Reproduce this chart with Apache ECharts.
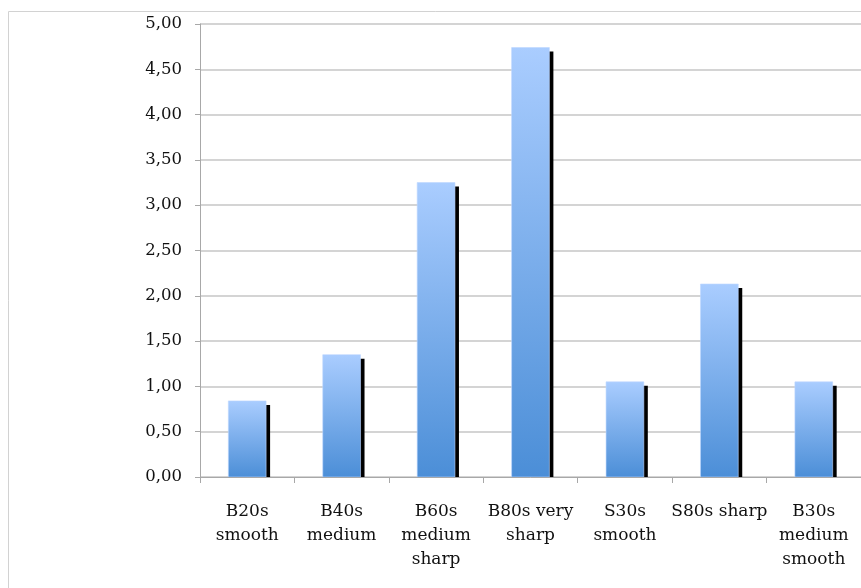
<!DOCTYPE html>
<html>
<head>
<meta charset="utf-8">
<script src="https://cdn.jsdelivr.net/npm/echarts@6/dist/echarts.min.js"></script>
<style>
  html, body { margin: 0; padding: 0; background: #ffffff; }
  #chart { width: 861px; height: 588px; }
</style>
</head>
<body>
<div id="chart"></div>
<script>
// Kernel categories and their measured values
const categories = [
  'B20s\nsmooth',
  'B40s\nmedium',
  'B60s\nmedium\nsharp',
  'B80s very\nsharp',
  'S30s\nsmooth',
  'S80s sharp',
  'B30s\nmedium\nsmooth'
];
const values = [0.84, 1.35, 3.25, 4.74, 1.05, 2.13, 1.05];

// Value axis range
const yMin = 0;
const yMax = 5;
const yStep = 0.5;

const FONT = 'DejaVu Serif';

const chart = echarts.init(document.getElementById('chart'), null, { renderer: 'canvas' });

const barGradient = new echarts.graphic.LinearGradient(0, 0, 0, 1, [
  { offset: 0, color: '#aacdff' },
  { offset: 1, color: '#4b8ed7' }
]);

// Bar with a hard black drop shadow, clipped at the baseline
function renderBar(params, api) {
  const idx = api.value(0);
  const top = api.coord([idx, api.value(1)]);
  const base = api.coord([idx, 0]);
  const w = api.size([1, 0])[0] * 0.4;
  const x = top[0] - w / 2;
  const h = base[1] - top[1];
  const off = 4;
  return {
    type: 'group',
    children: [
      {
        type: 'rect',
        shape: { x: x + off, y: top[1] + off, width: w, height: Math.max(0, h - off) },
        style: { fill: '#000000' }
      },
      {
        type: 'rect',
        shape: { x: x, y: top[1], width: w, height: h },
        style: { fill: barGradient, stroke: 'rgba(190,215,255,0.6)', lineWidth: 1 }
      }
    ]
  };
}

chart.setOption({
  animation: false,
  backgroundColor: '#ffffff',
  graphic: [
    {
      type: 'rect',
      shape: { x: 8.5, y: 11.5, width: 1000, height: 1000 },
      style: { fill: 'none', stroke: '#d2d2d2', lineWidth: 1 },
      silent: true,
      z: -10
    }
  ],
  grid: { left: 200, top: 24, right: -8, bottom: 111 },
  xAxis: {
    type: 'category',
    data: categories,
    axisLine: { show: true, lineStyle: { color: '#a8a8a8', width: 1 } },
    axisTick: { show: true, length: 6, lineStyle: { color: '#a8a8a8' } },
    axisLabel: {
      interval: 0,
      margin: 23,
      color: '#111111',
      fontFamily: FONT,
      fontSize: 17,
      lineHeight: 24
    },
    splitLine: { show: false }
  },
  yAxis: {
    type: 'value',
    min: yMin,
    max: yMax,
    interval: yStep,
    axisLine: { show: true, lineStyle: { color: '#a8a8a8', width: 1 } },
    axisTick: { show: true, length: 5, lineStyle: { color: '#a8a8a8' } },
    axisLabel: {
      margin: 18,
      color: '#111111',
      fontFamily: FONT,
      fontSize: 16.5,
      formatter: v => v.toFixed(2).replace('.', ',')
    },
    splitLine: { show: true, lineStyle: { color: '#c6c6c6', width: 1.5 } }
  },
  series: [
    {
      type: 'custom',
      renderItem: renderBar,
      data: values.map((v, i) => [i, v]),
      encode: { x: 0, y: 1 },
      clip: true
    }
  ]
});
</script>
</body>
</html>
